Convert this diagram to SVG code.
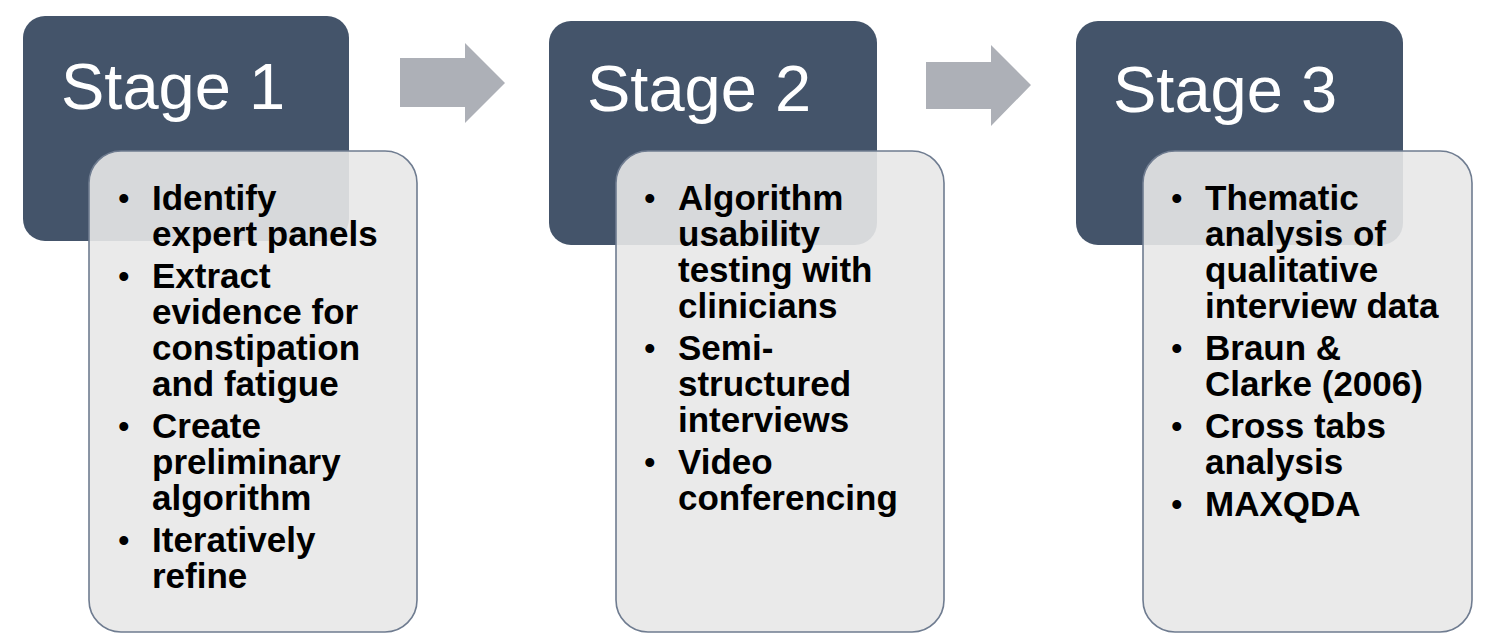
<svg xmlns="http://www.w3.org/2000/svg" width="1488" height="644" viewBox="0 0 1488 644">
<style>
.hdr{fill:#44546A}
.card{fill:#E8E8E8;fill-opacity:0.9;stroke:#6F7C90;stroke-width:1.6}
.title{font-family:"Liberation Sans",Arial,sans-serif;font-size:65px;fill:#FFFFFF}
.t{font-family:"Liberation Sans",Arial,sans-serif;font-size:35px;font-weight:bold;fill:#000000}
.b{font-family:"Liberation Sans",Arial,sans-serif;font-size:33px;fill:#000000}
.arrow{fill:#ADB0B7}
</style>
<rect width="1488" height="644" fill="#FFFFFF"/>
<g id="connectors">
<polygon class="arrow" points="400,58 465,58 465,43 505,83 465,123 465,107 400,107"/>
<polygon class="arrow" points="926,62 991,62 991,45 1031,85 991,126 991,109 926,109"/>
</g>
<g id="stage1">
<rect class="hdr" x="23" y="16" width="326" height="225" rx="22"/>
<text class="title" x="61" y="109">Stage 1</text>
<rect class="card" x="89" y="151" width="328" height="481" rx="32"/>
<text class="b" x="118" y="210">•</text>
<text class="t" x="152" y="210">Identify</text>
<text class="t" x="152" y="246">expert panels</text>
<text class="b" x="118" y="288">•</text>
<text class="t" x="152" y="288">Extract</text>
<text class="t" x="152" y="324">evidence for</text>
<text class="t" x="152" y="360">constipation</text>
<text class="t" x="152" y="396">and fatigue</text>
<text class="b" x="118" y="438">•</text>
<text class="t" x="152" y="438">Create</text>
<text class="t" x="152" y="474">preliminary</text>
<text class="t" x="152" y="510">algorithm</text>
<text class="b" x="118" y="552">•</text>
<text class="t" x="152" y="552">Iteratively</text>
<text class="t" x="152" y="588">refine</text>
</g>
<g id="stage2">
<rect class="hdr" x="549" y="21" width="328" height="224" rx="22"/>
<text class="title" x="587" y="111">Stage 2</text>
<rect class="card" x="616" y="151" width="328" height="481" rx="32"/>
<text class="b" x="644" y="210">•</text>
<text class="t" x="678" y="210">Algorithm</text>
<text class="t" x="678" y="246">usability</text>
<text class="t" x="678" y="282">testing with</text>
<text class="t" x="678" y="318">clinicians</text>
<text class="b" x="644" y="360">•</text>
<text class="t" x="678" y="360">Semi-</text>
<text class="t" x="678" y="396">structured</text>
<text class="t" x="678" y="432">interviews</text>
<text class="b" x="644" y="474">•</text>
<text class="t" x="678" y="474">Video</text>
<text class="t" x="678" y="510">conferencing</text>
</g>
<g id="stage3">
<rect class="hdr" x="1076" y="21" width="327" height="224" rx="22"/>
<text class="title" x="1113" y="112">Stage 3</text>
<rect class="card" x="1143" y="151" width="329" height="481" rx="32"/>
<text class="b" x="1171" y="210">•</text>
<text class="t" x="1205" y="210">Thematic</text>
<text class="t" x="1205" y="246">analysis of</text>
<text class="t" x="1205" y="282">qualitative</text>
<text class="t" x="1205" y="318">interview data</text>
<text class="b" x="1171" y="360">•</text>
<text class="t" x="1205" y="360">Braun &amp;</text>
<text class="t" x="1205" y="396">Clarke (2006)</text>
<text class="b" x="1171" y="438">•</text>
<text class="t" x="1205" y="438">Cross tabs</text>
<text class="t" x="1205" y="474">analysis</text>
<text class="b" x="1171" y="516">•</text>
<text class="t" x="1205" y="516">MAXQDA</text>
</g>
</svg>
